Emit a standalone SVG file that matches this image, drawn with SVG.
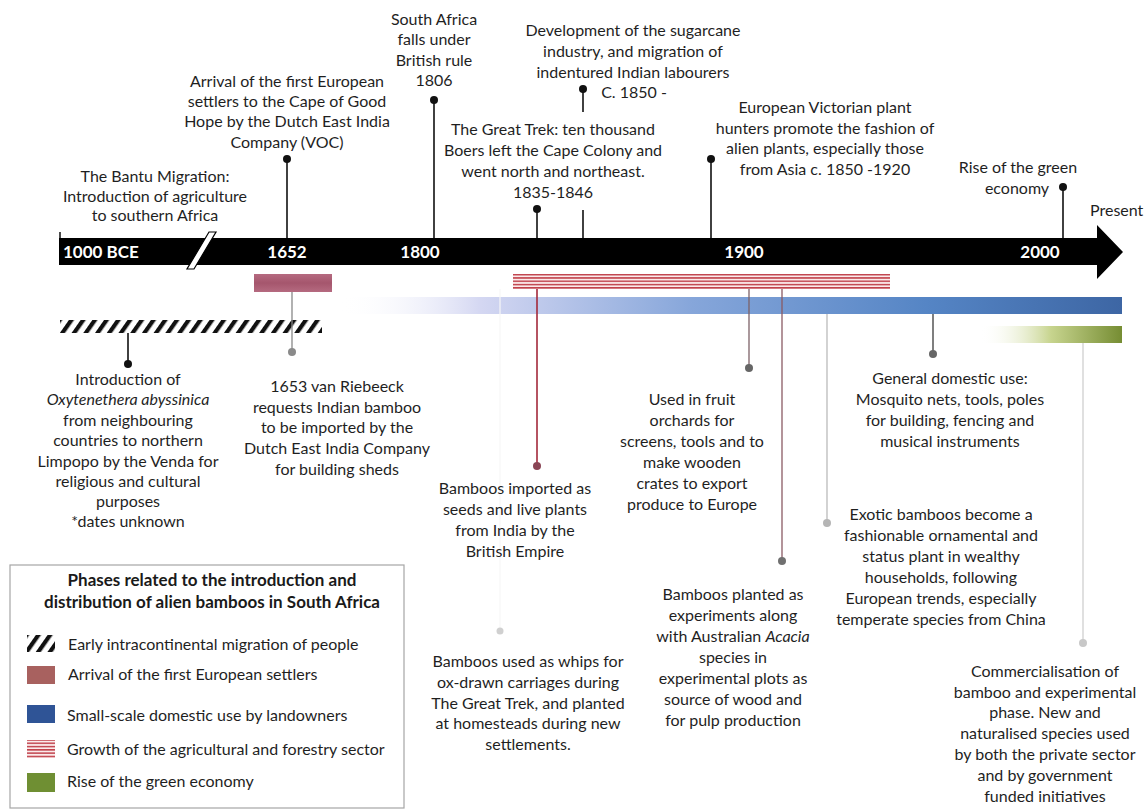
<svg xmlns="http://www.w3.org/2000/svg" width="1148" height="811" viewBox="0 0 1148 811">
<defs>
  <style>
    .t { font-family: Lato, "Liberation Sans", sans-serif; font-size: 16px; fill: #1f1f1f; text-anchor: middle; }
    .lg { font-family: Lato, "Liberation Sans", sans-serif; font-size: 16px; fill: #1f1f1f; }
    .lt { font-family: Lato, "Liberation Sans", sans-serif; font-size: 17px; font-weight: bold; fill: #1a1a1a; text-anchor: middle; }
    .yr { font-family: Lato, "Liberation Sans", sans-serif; font-size: 17px; font-weight: bold; fill: #ffffff; }
    .stem { stroke: #111; stroke-width: 1.6; fill: none; }
    .dot { fill: #111; }
  </style>
  <pattern id="hatch" patternUnits="userSpaceOnUse" width="9.6" height="9.6" patternTransform="rotate(35)">
    <rect x="0" y="0" width="4.2" height="9.6" fill="#111"/>
  </pattern>
  <pattern id="redstripe" patternUnits="userSpaceOnUse" width="10" height="3.3">
    <rect x="0" y="0" width="10" height="3.3" fill="#fbeaea"/>
    <rect x="0" y="0" width="10" height="1.5" fill="#c0404a"/>
  </pattern>
  <linearGradient id="blueg" gradientUnits="userSpaceOnUse" x1="340" y1="0" x2="1122" y2="0">
    <stop offset="0" stop-color="#ffffff" stop-opacity="0"/>
    <stop offset="0.18" stop-color="#d4d7f2"/>
    <stop offset="0.45" stop-color="#86a6da"/>
    <stop offset="0.75" stop-color="#5585c5"/>
    <stop offset="1" stop-color="#3d66a4"/>
  </linearGradient>
  <linearGradient id="greeng" gradientUnits="userSpaceOnUse" x1="980" y1="0" x2="1122" y2="0">
    <stop offset="0" stop-color="#ffffff" stop-opacity="0"/>
    <stop offset="0.5" stop-color="#c7d48e"/>
    <stop offset="1" stop-color="#768d33"/>
  </linearGradient>
  <linearGradient id="mauveg" x1="0" y1="0" x2="0" y2="1">
    <stop offset="0" stop-color="#b56a80"/>
    <stop offset="0.5" stop-color="#a5566d"/>
    <stop offset="1" stop-color="#b56a80"/>
  </linearGradient>
</defs>
<rect x="0" y="0" width="1148" height="811" fill="#ffffff"/>

<!-- timeline axis -->
<g id="axis">
  <line x1="60" y1="232" x2="60" y2="240" stroke="#111" stroke-width="1.5"/>
  <polygon points="59,238 1097,238 1097,225 1123,252 1097,279 1097,265 59,265" fill="#000"/>
  <polygon points="187,269 194,269 216,232 209,232" fill="#fff" stroke="#000" stroke-width="1.2"/>
  <text class="yr" x="63" y="258">1000 BCE</text>
  <text class="yr" x="287" y="258" text-anchor="middle">1652</text>
  <text class="yr" x="420" y="258" text-anchor="middle">1800</text>
  <text class="yr" x="744" y="258" text-anchor="middle">1900</text>
  <text class="yr" x="1040" y="258" text-anchor="middle">2000</text>
</g>

<!-- phase bars -->
<g id="phase-bars">
  <rect x="254" y="274" width="78" height="18" fill="url(#mauveg)"/>
  <rect x="60" y="320" width="262" height="13" fill="url(#hatch)"/>
  <rect x="513" y="274" width="377" height="15" fill="url(#redstripe)"/>
  <rect x="340" y="297" width="782" height="17" fill="url(#blueg)"/>
  <rect x="980" y="326" width="142" height="17" fill="url(#greeng)"/>
</g>

<!-- connectors -->
<g id="connectors">
  <line class="stem" x1="287" y1="159" x2="287" y2="238"/>
  <line class="stem" x1="434" y1="100" x2="434" y2="238"/>
  <line class="stem" x1="537" y1="209" x2="537" y2="238"/>
  <line class="stem" x1="583" y1="89" x2="583" y2="112"/>
  <line class="stem" x1="583" y1="210" x2="583" y2="238"/>
  <line class="stem" x1="711" y1="159" x2="711" y2="238"/>
  <line class="stem" x1="1063" y1="187" x2="1063" y2="238"/>
  <line class="stem" x1="128" y1="333" x2="128" y2="364"/>
  <line x1="292" y1="292" x2="292" y2="352" stroke="#888" stroke-width="1.3"/>
  <line x1="537" y1="289" x2="537" y2="466" stroke="#a3283a" stroke-width="1.6"/>
  <line x1="500" y1="289" x2="500" y2="631" stroke="#f7f7f7" stroke-width="1.2"/>
  <line x1="749" y1="289" x2="749" y2="368" stroke="#7d6268" stroke-width="1.3"/>
  <line x1="782" y1="289" x2="782" y2="561" stroke="#8a5a64" stroke-width="1.3"/>
  <line x1="827" y1="314" x2="827" y2="523" stroke="#bbbbbb" stroke-width="1.3"/>
  <line x1="933" y1="314" x2="933" y2="354" stroke="#555" stroke-width="1.5"/>
  <line x1="1083" y1="343" x2="1083" y2="643" stroke="#cfcfcf" stroke-width="1.3"/>
  <circle class="dot" cx="287" cy="159" r="4"/>
  <circle class="dot" cx="434" cy="100" r="4"/>
  <circle class="dot" cx="537" cy="209" r="4"/>
  <circle class="dot" cx="583" cy="89" r="4"/>
  <circle class="dot" cx="711" cy="159" r="4"/>
  <circle class="dot" cx="1063" cy="187" r="4"/>
  <circle class="dot" cx="128" cy="364" r="4"/>
  <circle cx="292" cy="352" r="4" fill="#8a8a8a"/>
  <circle cx="537" cy="466" r="4" fill="#8a4555"/>
  <circle cx="500" cy="631" r="3.5" fill="#d0d0d0"/>
  <circle cx="749" cy="368" r="4" fill="#666"/>
  <circle cx="782" cy="561" r="4" fill="#707070"/>
  <circle cx="827" cy="523" r="4" fill="#b5b5b5"/>
  <circle cx="933" cy="354" r="4" fill="#666"/>
  <circle cx="1083" cy="643" r="4" fill="#c8c8c8"/>
</g>

<!-- top events -->
<g id="bantu">
  <text class="t" x="155" y="182">The Bantu Migration:</text>
  <text class="t" x="155" y="202">Introduction of agriculture</text>
  <text class="t" x="155" y="221">to southern Africa</text>
</g>
<g id="voc">
  <text class="t" x="287" y="87">Arrival of the first European</text>
  <text class="t" x="287" y="107">settlers to the Cape of Good</text>
  <text class="t" x="287" y="127">Hope by the Dutch East India</text>
  <text class="t" x="287" y="148">Company (VOC)</text>
</g>
<g id="british">
  <text class="t" x="434" y="25">South Africa</text>
  <text class="t" x="434" y="45">falls under</text>
  <text class="t" x="434" y="66">British rule</text>
  <text class="t" x="434" y="86">1806</text>
</g>
<g id="sugarcane">
  <text class="t" x="633" y="36">Development of the sugarcane</text>
  <text class="t" x="633" y="57">industry, and migration of</text>
  <text class="t" x="633" y="78">indentured Indian labourers</text>
  <text class="t" x="634" y="98">C. 1850 -</text>
</g>
<g id="great-trek">
  <text class="t" x="553" y="135">The Great Trek: ten thousand</text>
  <text class="t" x="553" y="156">Boers left the Cape Colony and</text>
  <text class="t" x="553" y="177">went north and northeast.</text>
  <text class="t" x="553" y="198">1835-1846</text>
</g>
<g id="victorian">
  <text class="t" x="825" y="113">European Victorian plant</text>
  <text class="t" x="825" y="134">hunters promote the fashion of</text>
  <text class="t" x="825" y="154">alien plants, especially those</text>
  <text class="t" x="825" y="175">from Asia c. 1850 -1920</text>
</g>
<g id="green-economy">
  <text class="t" x="1018" y="173">Rise of the green</text>
  <text class="t" x="1017" y="194">economy</text>
</g>
<g id="present">
  <text class="t" x="1090" y="216" style="text-anchor:start">Present</text>
</g>

<!-- bottom events -->
<g id="oxytenanthera">
  <text class="t" x="128" y="385">Introduction of</text>
  <text class="t" x="128" y="405" font-style="italic">Oxytenethera abyssinica</text>
  <text class="t" x="128" y="426">from neighbouring</text>
  <text class="t" x="128" y="446">countries to northern</text>
  <text class="t" x="128" y="467">Limpopo  by the Venda for</text>
  <text class="t" x="128" y="487">religious and cultural</text>
  <text class="t" x="128" y="507">purposes</text>
  <text class="t" x="128" y="527">*dates unknown</text>
</g>
<g id="van-riebeeck">
  <text class="t" x="337" y="392">1653 van Riebeeck</text>
  <text class="t" x="337" y="413">requests Indian bamboo</text>
  <text class="t" x="337" y="433">to be imported by the</text>
  <text class="t" x="337" y="454">Dutch East India Company</text>
  <text class="t" x="337" y="475">for building sheds</text>
</g>
<g id="imported">
  <text class="t" x="515" y="494">Bamboos imported as</text>
  <text class="t" x="515" y="515">seeds and live plants</text>
  <text class="t" x="515" y="536">from India  by the</text>
  <text class="t" x="515" y="557">British Empire</text>
</g>
<g id="whips">
  <text class="t" x="528" y="667">Bamboos used as whips for</text>
  <text class="t" x="528" y="688">ox-drawn carriages  during</text>
  <text class="t" x="528" y="709">The Great Trek, and planted</text>
  <text class="t" x="528" y="729">at homesteads during new</text>
  <text class="t" x="528" y="750">settlements.</text>
</g>
<g id="orchards">
  <text class="t" x="692" y="405">Used in fruit</text>
  <text class="t" x="692" y="426">orchards for</text>
  <text class="t" x="692" y="447">screens, tools and to</text>
  <text class="t" x="692" y="468">make wooden</text>
  <text class="t" x="692" y="489">crates to export</text>
  <text class="t" x="692" y="510">produce to Europe</text>
</g>
<g id="acacia">
  <text class="t" x="733" y="600">Bamboos planted as</text>
  <text class="t" x="733" y="621">experiments along</text>
  <text class="t" x="733" y="642">with Australian <tspan font-style="italic">Acacia</tspan></text>
  <text class="t" x="733" y="663">species in</text>
  <text class="t" x="733" y="684">experimental plots as</text>
  <text class="t" x="733" y="705">source of wood and</text>
  <text class="t" x="733" y="726">for pulp production</text>
</g>
<g id="domestic">
  <text class="t" x="950" y="384">General domestic use:</text>
  <text class="t" x="950" y="405">Mosquito nets, tools, poles</text>
  <text class="t" x="950" y="426">for building, fencing and</text>
  <text class="t" x="950" y="447">musical instruments</text>
</g>
<g id="exotic">
  <text class="t" x="941" y="520">Exotic bamboos become a</text>
  <text class="t" x="941" y="541">fashionable ornamental and</text>
  <text class="t" x="941" y="562">status plant in wealthy</text>
  <text class="t" x="941" y="583">households, following</text>
  <text class="t" x="941" y="604">European trends, especially</text>
  <text class="t" x="941" y="625">temperate species from China</text>
</g>
<g id="commercialisation">
  <text class="t" x="1045" y="677">Commercialisation of</text>
  <text class="t" x="1045" y="698">bamboo and experimental</text>
  <text class="t" x="1045" y="718">phase. New and</text>
  <text class="t" x="1045" y="739">naturalised species used</text>
  <text class="t" x="1045" y="760">by both the private sector</text>
  <text class="t" x="1045" y="781">and by government</text>
  <text class="t" x="1045" y="802">funded initiatives</text>
</g>

<!-- legend -->
<g id="legend">
  <rect x="10" y="565" width="394" height="243" fill="#fff" stroke="#a6a6a6" stroke-width="1.2"/>
  <text class="lt" x="212" y="586">Phases related to the  introduction and</text>
  <text class="lt" x="212" y="608">distribution of alien bamboos in South Africa</text>
  <rect x="27" y="635" width="28" height="17" fill="url(#hatch)"/>
  <text class="lg" x="68" y="650">Early intracontinental migration of people</text>
  <rect x="27" y="666" width="28" height="18" fill="#a8615f"/>
  <text class="lg" x="68" y="680">Arrival of the first European settlers</text>
  <rect x="27" y="705" width="28" height="18" fill="#2f5496"/>
  <text class="lg" x="67" y="721">Small-scale domestic use by landowners</text>
  <rect x="27" y="740" width="28" height="18" fill="url(#redstripe)"/>
  <text class="lg" x="67" y="755">Growth of the agricultural and forestry sector</text>
  <rect x="27" y="773" width="28" height="19" fill="#6f8f33"/>
  <text class="lg" x="67" y="787">Rise of the green economy</text>
</g>
</svg>
